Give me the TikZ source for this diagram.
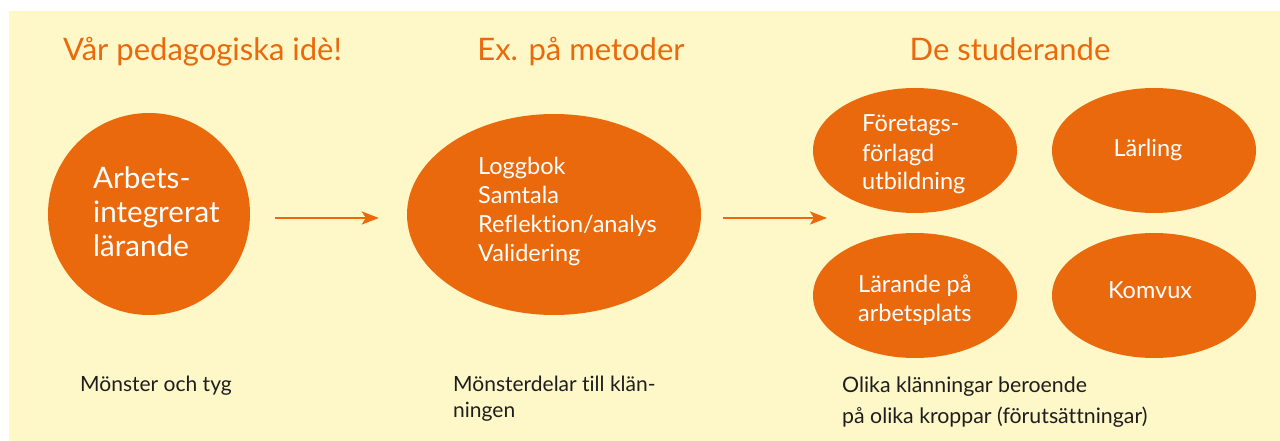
\documentclass[tikz,border=0pt]{standalone}
\usepackage{fontspec}
\setmainfont[Ligatures={NoCommon}]{Lato}
\usetikzlibrary{arrows.meta,shapes.geometric}
\definecolor{orng}{RGB}{233,105,12}
\definecolor{bgy}{RGB}{254,247,199}
\definecolor{ink}{RGB}{30,30,30}
\newcommand\mylines[1]{\begin{tabular}[t]{@{}l@{}}#1\end{tabular}}
\begin{document}
\begin{tikzpicture}[x=1pt,y=-1pt,
  blob/.style={ellipse, fill=orng, draw=none, inner sep=0, minimum width=204pt, minimum height=125pt},
  roundblob/.style={circle, fill=orng, draw=none, inner sep=0, minimum size=202pt},
  bigblob/.style={ellipse, fill=orng, draw=none, inner sep=0, minimum width=294pt, minimum height=201pt},
  title/.style={text=orng, font=\fontsize{31}{36}\selectfont, anchor=base, inner sep=0},
  bigtext/.style={text=white, font=\fontsize{29.6}{34.5}\selectfont, anchor=base west, inner sep=0},
  midtext/.style={text=white, font=\fontsize{23.5}{29}\selectfont, anchor=base west, inner sep=0},
  midctext/.style={text=white, font=\fontsize{23.5}{29}\selectfont, anchor=base, inner sep=0},
  note/.style={text=ink, font=\fontsize{21}{26}\selectfont, anchor=base west, inner sep=0},
  notewide/.style={text=ink, font=\fontsize{21.3}{31}\selectfont, anchor=base west, inner sep=0},
  conn/.style={draw=orng, line width=2.2pt, -{Stealth[length=17pt, width=13pt, inset=4pt]}}
]
\useasboundingbox (0,0) rectangle (1280,441);
\fill[bgy] (9,11) rectangle (1280,441);

% titles
\node[title] (t1) at (202.5,61) {Vår pedagogiska idè!};
\node[title] (t2) at (581,61) {Ex. på metoder};
\node[title] (t3) at (1010,61) {De studerande};

% shapes
\node[roundblob] (c1) at (149,214) {};
\node[bigblob] (e2) at (554,214.5) {};
\node[blob] (e3) at (915,150.5) {};
\node[blob] (e4) at (1154,150.5) {};
\node[blob] (e5) at (915,295.5) {};
\node[blob] (e6) at (1154,295.5) {};

% texts in shapes
\node[bigtext] (c1t) at (93,188) {\mylines{Arbets-\\integrerat\\lärande}};
\node[midtext] (e2t) at (478,175) {\mylines{Loggbok\\Samtala\\Reflektion/analys\\Validering}};
\node[midtext] (e3t) at (862,132) {\mylines{Företags-\\förlagd\\utbildning}};
\node[midctext] (e4t) at (1148,157) {Lärling};
\node[midtext] (e5t) at (858,292) {\mylines{Lärande på\\arbetsplats}};
\node[midctext] (e6t) at (1150,298) {Komvux};

% notes
\node[note] (n1) at (80,391) {Mönster och tyg};
\node[note] (n2) at (453,391) {\mylines{Mönsterdelar till klän-\\ningen}};
\node[notewide] (n3) at (842,392) {\mylines{Olika klänningar beroende\\på olika kroppar (förutsättningar)}};

% connectors
\coordinate (gap) at (827,218);
\draw[conn, shorten <=25pt, shorten >=28pt] ([yshift=-4pt]c1.east) -- ([yshift=-3.5pt]e2.west);
\draw[conn, shorten <=22pt] ([yshift=-3.5pt]e2.east) -- (gap);
\end{tikzpicture}
\end{document}
